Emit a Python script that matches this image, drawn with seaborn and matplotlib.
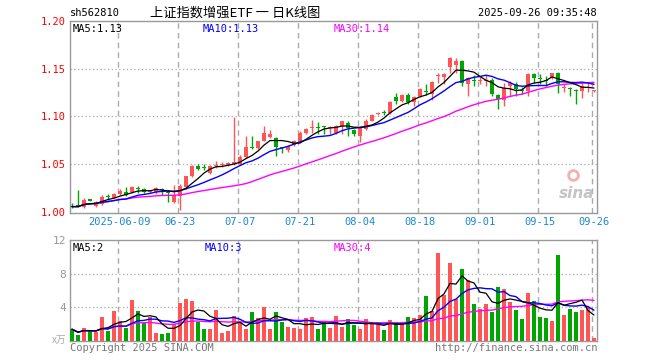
import numpy as np
import pandas as pd
import matplotlib
matplotlib.use("Agg")
import matplotlib.pyplot as plt
import seaborn as sns

# daily candles, sh562810, 2025-05-27 .. 2025-09-26
opens = [1.0065, 1.007, 1.005, 1.013, 1.006, 1.008, 1.0165, 1.015, 1.019, 1.021,
         1.021, 1.025, 1.024, 1.021, 1.021, 1.0235, 1.0205, 1.010, 1.017, 1.026,
         1.038, 1.048, 1.0465, 1.041, 1.0485, 1.0495, 1.049, 1.0505, 1.050, 1.058,
         1.0675, 1.067, 1.0747, 1.078, 1.0775, 1.0675, 1.065, 1.070, 1.074, 1.083,
         1.0875, 1.0885, 1.0895, 1.0875, 1.083, 1.090, 1.093, 1.086, 1.080, 1.087,
         1.0955, 1.1025, 1.1045, 1.104, 1.1205, 1.1163, 1.1225, 1.1146, 1.1215, 1.1265,
         1.1233, 1.1425, 1.141, 1.152, 1.154, 1.158, 1.1344, 1.1385, 1.1375, 1.1375,
         1.138, 1.1225, 1.117, 1.132, 1.1344, 1.128, 1.1268, 1.1448, 1.1405, 1.1385,
         1.1405, 1.1458, 1.130, 1.129, 1.128, 1.1268, 1.1335, 1.1265]
highs = [1.009, 1.0226, 1.014, 1.0135, 1.011, 1.018, 1.019, 1.020, 1.024, 1.026,
         1.027, 1.027, 1.025, 1.023, 1.026, 1.025, 1.023, 1.028, 1.029, 1.038,
         1.049, 1.050, 1.050, 1.049, 1.053, 1.052, 1.052, 1.0995, 1.060, 1.080,
         1.080, 1.074, 1.090, 1.086, 1.078, 1.068, 1.069, 1.075, 1.085, 1.088,
         1.096, 1.094, 1.090, 1.090, 1.091, 1.095, 1.095, 1.087, 1.088, 1.097,
         1.103, 1.105, 1.107, 1.116, 1.125, 1.1235, 1.125, 1.121, 1.130, 1.134,
         1.137, 1.146, 1.145, 1.162, 1.161, 1.159, 1.141, 1.143, 1.141, 1.143,
         1.140, 1.124, 1.1354, 1.137, 1.136, 1.131, 1.145, 1.1458, 1.144, 1.142,
         1.146, 1.147, 1.1344, 1.1306, 1.129, 1.1354, 1.1354, 1.128]
lows = [1.004, 1.005, 1.004, 1.011, 1.005, 1.007, 1.012, 1.014, 1.018, 1.017,
        1.020, 1.020, 1.020, 1.020, 1.019, 1.018, 1.010, 1.009, 1.002, 1.024,
        1.037, 1.044, 1.044, 1.040, 1.046, 1.047, 1.048, 1.049, 1.049, 1.056,
        1.066, 1.066, 1.074, 1.077, 1.059, 1.062, 1.063, 1.069, 1.073, 1.082,
        1.083, 1.082, 1.082, 1.082, 1.082, 1.082, 1.080, 1.080, 1.073, 1.086,
        1.095, 1.101, 1.101, 1.103, 1.113, 1.1146, 1.113, 1.111, 1.120, 1.1225,
        1.117, 1.135, 1.134, 1.146, 1.146, 1.132, 1.1216, 1.132, 1.134, 1.132,
        1.1216, 1.108, 1.111, 1.1216, 1.1216, 1.123, 1.1216, 1.1354, 1.1344, 1.132,
        1.139, 1.1243, 1.126, 1.1216, 1.113, 1.1195, 1.126, 1.126]
closes = [1.0055, 1.0055, 1.012, 1.011, 1.010, 1.016, 1.0155, 1.019, 1.022, 1.018,
          1.026, 1.024, 1.021, 1.0215, 1.025, 1.0225, 1.0195, 1.017, 1.027, 1.0375,
          1.048, 1.045, 1.0455, 1.048, 1.0495, 1.050, 1.051, 1.052, 1.058, 1.068,
          1.0665, 1.074, 1.083, 1.082, 1.068, 1.0665, 1.069, 1.074, 1.083, 1.087,
          1.088, 1.0875, 1.0885, 1.0885, 1.090, 1.095, 1.088, 1.082, 1.088, 1.0955,
          1.1017, 1.103, 1.1035, 1.115, 1.1163, 1.1225, 1.1146, 1.1205, 1.129, 1.1255,
          1.136, 1.1435, 1.144, 1.161, 1.158, 1.1354, 1.140, 1.1375, 1.1385, 1.138,
          1.1233, 1.118, 1.1303, 1.1354, 1.1285, 1.127, 1.1441, 1.140, 1.1395, 1.1375,
          1.1458, 1.1344, 1.131, 1.1285, 1.127, 1.132, 1.134, 1.127]
volumes = [1.4, 0.7, 1.6, 1.2, 1.1, 2.8, 1.2, 3.6, 2.4, 1.6,
           4.9, 3.6, 2.1, 2.8, 0.9, 0.8, 1.0, 2.0, 4.5, 5.0,
           4.7, 2.2, 1.4, 1.4, 3.7, 1.0, 1.2, 3.0, 2.2, 1.4,
           3.4, 2.7, 4.0, 1.4, 3.4, 2.3, 1.7, 1.5, 1.4, 2.7,
           2.8, 1.4, 2.2, 1.6, 3.0, 1.7, 2.6, 1.9, 1.4, 2.6,
           2.1, 1.9, 1.3, 2.5, 2.2, 2.0, 2.8, 2.7, 3.1, 5.4,
           3.6, 10.4, 5.5, 9.3, 5.0, 8.5, 7.3, 4.4, 3.8, 4.4,
           3.4, 6.4, 6.2, 4.6, 3.7, 2.6, 5.7, 4.7, 2.8, 2.7,
           2.4, 10.2, 3.1, 3.8, 3.5, 3.7, 4.0, 0.4]

date_ticks = [8, 18, 28, 38, 48, 58, 68, 78, 87]
date_labels = ["2025-06-09", "06-23", "07-07", "07-21", "08-04",
               "08-18", "09-01", "09-15", "09-26"]
price_ticks = [1.00, 1.05, 1.10, 1.15, 1.20]
vol_ticks = [4, 8, 12]

RED = "#ff5555"
GREEN = "#00a600"
GRID = "#aaaaaa"
FRAME = "#999999"
MONO = "DejaVu Sans Mono"

df = pd.DataFrame({"o": opens, "h": highs, "l": lows, "c": closes, "vol": volumes})
df["idx"] = np.arange(len(df))
df["dir"] = np.where(df["c"] >= df["o"], "up", "down")
for n in (5, 10, 30):
    df[f"ma{n}"] = df["c"].rolling(n, min_periods=1).mean()
    df[f"vma{n}"] = df["vol"].rolling(n, min_periods=1).mean()

sns.set_style("white")
plt.rcParams["font.family"] = [MONO, "Noto Sans CJK SC"]

W, H = 660, 360
fig = plt.figure(figsize=(6.6, 3.6), dpi=100)


def px_axes(x0, y0, x1, y1):
    return fig.add_axes([x0 / W, 1 - y1 / H, (x1 - x0) / W, (y1 - y0) / H])


ax = px_axes(70, 21, 597, 213)
axv = px_axes(70, 240, 597, 341)

# ---- price panel ----
colors = np.where(df["dir"] == "up", RED, GREEN)
ax.vlines(df["idx"], df["l"], df["h"], colors=colors, lw=1, zorder=3)
body_lo = np.minimum(df["o"], df["c"])
body_h = np.maximum((df["c"] - df["o"]).abs(), 0.0009)
ax.bar(df["idx"], body_h, bottom=body_lo, width=0.78, color=colors, lw=0, zorder=4)

sns.lineplot(data=df, x="idx", y="ma30", color="#ff00ff", lw=1, ax=ax, zorder=5)
sns.lineplot(data=df, x="idx", y="ma10", color="#0000ff", lw=1, ax=ax, zorder=5)
sns.lineplot(data=df, x="idx", y="ma5", color="black", lw=0.9, ax=ax, zorder=6)

ax.set_xlim(-0.33, 87.5)
ax.set_ylim(0.9988, 1.2)
for t in [1.05, 1.10, 1.15]:
    ax.axhline(t, color=GRID, lw=0.9, ls=(0, (1, 2)), zorder=1)
for t in date_ticks:
    ax.axvline(t - 0.33, color=GRID, lw=1, ls=(0, (4, 3)), zorder=1)
ax.set_yticks(price_ticks)
ax.set_yticklabels([f"{v:.2f}" for v in price_ticks], color="red", fontsize=7.5)
ax.set_xticks(date_ticks)
ax.set_xticklabels(date_labels, color="#1a88d2", fontsize=7.5)
ax.tick_params(length=0, pad=3)
ax.set_xlabel("")
ax.set_ylabel("")
for s in ax.spines.values():
    s.set_color(FRAME)
    s.set_linewidth(1)

ax.text(0.005, 0.985, "MA5:1.13", transform=ax.transAxes, fontsize=7.5,
        color="black", va="top", ha="left")
ax.text(0.252, 0.985, "MA10:1.13", transform=ax.transAxes, fontsize=7.5,
        color="#0000ff", va="top", ha="left")
ax.text(0.5, 0.985, "MA30:1.14", transform=ax.transAxes, fontsize=7.5,
        color="#ff00ff", va="top", ha="left")
# sina watermark
ax.text(0.995, 0.1, "sina", transform=ax.transAxes, fontsize=11, color="#c4c4c4",
        fontstyle="italic", fontweight="bold", family="DejaVu Sans", ha="right", va="center")
ax.plot([0.955], [0.2], transform=ax.transAxes, marker="o", ms=7, mfc="none",
        mec="#f3b0b0", mew=2)

# ---- volume panel ----
sns.barplot(data=df, x="idx", y="vol", hue="dir", palette={"up": RED, "down": GREEN},
            native_scale=True, width=0.8, saturation=1, dodge=False, legend=False,
            linewidth=0, ax=axv, zorder=3)
sns.lineplot(data=df, x="idx", y="vma30", color="#ff00ff", lw=1, ax=axv, zorder=5)
sns.lineplot(data=df, x="idx", y="vma10", color="#0000ff", lw=1, ax=axv, zorder=5)
sns.lineplot(data=df, x="idx", y="vma5", color="black", lw=0.9, ax=axv, zorder=6)
axv.set_xlim(-0.33, 87.5)
axv.set_ylim(0, 12)
for t in [4, 8]:
    axv.axhline(t, color=GRID, lw=0.9, ls=(0, (1, 2)), zorder=1)
for t in date_ticks:
    axv.axvline(t - 0.33, color=GRID, lw=1, ls=(0, (4, 3)), zorder=1)
axv.set_yticks(vol_ticks)
axv.set_yticklabels([str(v) for v in vol_ticks], color="#999999", fontsize=8)
axv.set_xticks([])
axv.tick_params(length=0, pad=3)
axv.set_xlabel("")
axv.set_ylabel("")
for s in axv.spines.values():
    s.set_color(FRAME)
    s.set_linewidth(1)
axv.text(0.005, 0.97, "MA5:2", transform=axv.transAxes, fontsize=7.5,
         color="black", va="top", ha="left")
axv.text(0.255, 0.97, "MA10:3", transform=axv.transAxes, fontsize=7.5,
         color="#0000ff", va="top", ha="left")
axv.text(0.5, 0.97, "MA30:4", transform=axv.transAxes, fontsize=7.5,
         color="#ff00ff", va="top", ha="left")


def ftext(x, y, s, **kw):
    fig.text(x / W, 1 - y / H, s, **kw)


ftext(70, 13, "sh562810", fontsize=7.5, color="black", va="center", ha="left")
ftext(150, 13, "上证指数增强ETF 一 日K线图", fontsize=9.5, color="black", va="center",
      ha="left", family=["Noto Sans CJK SC", "DejaVu Sans"])
ftext(597, 13, "2025-09-26 09:35:48", fontsize=7.5, color="black", va="center", ha="right")
ftext(66, 340, "x万", fontsize=7, color="#aaaaaa", va="center", ha="right",
      family=["Noto Sans CJK SC", "DejaVu Sans"])
ftext(70, 348, "Copyright 2025 SINA.COM", fontsize=7.5, color="#777777", va="center", ha="left")
ftext(597, 348, "http://finance.sina.com.cn", fontsize=7.5, color="#777777",
      va="center", ha="right")

fig.savefig("out.png", dpi=100, facecolor="white")
